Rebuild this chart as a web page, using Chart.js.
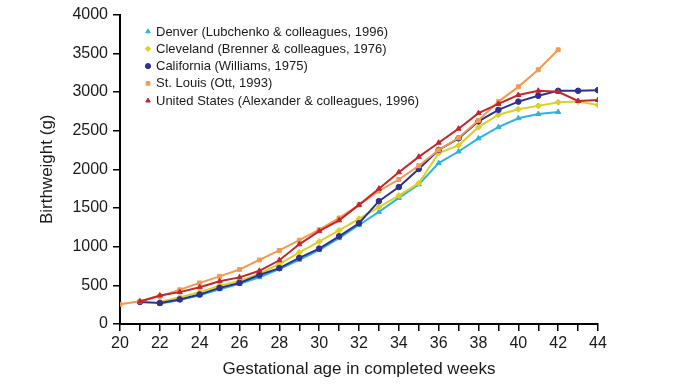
<!DOCTYPE html>
<html>
<head>
<meta charset="utf-8">
<script src="https://cdn.jsdelivr.net/npm/chart.js@4/dist/chart.umd.min.js"></script>
<style>
  html, body { margin: 0; padding: 0; background: #fff; }
  #wrap { width: 684px; height: 385px; }
</style>
</head>
<body>
<div id="wrap"><canvas id="birthChart" width="684" height="385"></canvas></div>
<script>
// gestational weeks 20..44, null where a study has no value
const weeks = [20, 21, 22, 23, 24, 25, 26, 27, 28, 29, 30, 31, 32, 33, 34, 35, 36, 37, 38, 39, 40, 41, 42, 43, 44];

const denver = [null, null, 262, 310, 370, 450, 520, 605, 710, 830, 955, 1110, 1280, 1450, 1630, 1805, 2080, 2230, 2400, 2545, 2660, 2715, 2740, null, null];
const cleveland = [null, null, 285, 345, 410, 495, 555, 650, 775, 925, 1065, 1210, 1360, 1510, 1660, 1820, 2210, 2310, 2545, 2705, 2777, 2820, 2866, 2875, 2832];
const california = [null, 285, 272, 318, 382, 467, 531, 633, 722, 855, 975, 1134, 1303, 1588, 1771, 2004, 2250, 2400, 2620, 2768, 2875, 2951, 3015, 3015, 3023];
const stLouis = [255, 293, 357, 442, 531, 616, 705, 828, 951, 1083, 1219, 1370, 1540, 1720, 1868, 2046, 2250, 2408, 2633, 2875, 3066, 3287, 3545, null, null];
const unitedStates = [null, 290, 369, 412, 475, 552, 603, 688, 824, 1030, 1200, 1340, 1540, 1749, 1962, 2161, 2344, 2525, 2726, 2845, 2960, 3015, 3002, 2883, 2896];

const seriesLabels = [
  'Denver (Lubchenko & colleagues, 1996)',
  'Cleveland (Brenner & colleagues, 1976)',
  'California (Williams, 1975)',
  'St. Louis (Ott, 1993)',
  'United States (Alexander & colleagues, 1996)'
];
const yTicks = [0, 500, 1000, 1500, 2000, 2500, 3000, 3500, 4000];
const xLabelTicks = [20, 22, 24, 26, 28, 30, 32, 34, 36, 38, 40, 42, 44];

const colors = ['#2db3df', '#dccf27', '#2e3192', '#f39a52', '#c1272d'];
const pointStyles = ['triangle', 'rectRot', 'circle', 'rect', 'triangle'];
const radii = [3, 3, 2.8, 2.8, 3];

const toPoints = vals => weeks.map((w, i) => ({ x: w, y: vals[i] })).filter(p => p.y !== null);

const allSeries = [denver, cleveland, california, stLouis, unitedStates];
const drawOrder = [4, 3, 2, 1, 0]; // US drawn on top

const datasets = allSeries.map((vals, i) => ({
  label: seriesLabels[i],
  data: toPoints(vals),
  borderColor: colors[i],
  backgroundColor: colors[i],
  borderWidth: 2,
  pointStyle: pointStyles[i],
  pointRadius: radii[i],
  pointBorderWidth: 1,
  tension: 0,
  order: drawOrder[i]
}));

const fontFamily = '"Liberation Sans", Arial, sans-serif';

// legend drawn inside the plot, top-left
const insideLegend = {
  id: 'insideLegend',
  afterDraw(chart) {
    const ctx = chart.ctx;
    ctx.save();
    ctx.font = '13px ' + fontFamily;
    ctx.textBaseline = 'middle';
    seriesLabels.forEach((label, i) => {
      const y = 31.5 + i * 17.3;
      ctx.fillStyle = colors[i];
      ctx.strokeStyle = colors[i];
      Chart.helpers.drawPoint(ctx, { pointStyle: pointStyles[i], radius: 2.6, rotation: 0, borderWidth: 1 }, 148, y);
      ctx.fillStyle = '#1a1a1a';
      ctx.fillText(label, 156, y + 0.5);
    });
    ctx.restore();
  }
};

const ctx = document.getElementById('birthChart').getContext('2d');
new Chart(ctx, {
  type: 'line',
  data: { datasets },
  options: {
    responsive: false,
    animation: false,
    layout: { padding: { top: 10, right: 86, left: 0, bottom: 0 } },
    plugins: {
      legend: { display: false },
      tooltip: { enabled: false }
    },
    scales: {
      x: {
        type: 'linear',
        min: 20,
        max: 44,
        afterFit: s => { s.height = 61; },
        ticks: {
          stepSize: 1,
          autoSkip: false,
          maxRotation: 0,
          padding: 3,
          color: '#1a1a1a',
          font: { family: fontFamily, size: 16 },
          callback: v => (xLabelTicks.includes(v) ? String(v) : '')
        },
        grid: { drawOnChartArea: false, drawTicks: true, tickLength: 7, color: '#000', lineWidth: 1.5 },
        border: { color: '#000', width: 2 },
        title: {
          display: true,
          text: 'Gestational age in completed weeks',
          color: '#1a1a1a',
          font: { family: fontFamily, size: 17 },
          padding: { top: 0, bottom: 5 }
        }
      },
      y: {
        min: 0,
        max: 4000,
        afterFit: s => { s.width = 120; },
        afterBuildTicks: s => { s.ticks = yTicks.map(v => ({ value: v })); },
        ticks: {
          padding: 5,
          color: '#1a1a1a',
          font: { family: fontFamily, size: 16 },
          callback: v => String(v)
        },
        grid: { drawOnChartArea: false, drawTicks: true, tickLength: 7, color: '#000', lineWidth: 1.5 },
        border: { color: '#000', width: 2 },
        title: {
          display: true,
          text: 'Birthweight (g)',
          color: '#1a1a1a',
          font: { family: fontFamily, size: 17 },
          padding: { top: 37, bottom: 0 }
        }
      }
    }
  },
  plugins: [insideLegend]
});
</script>
</body>
</html>
